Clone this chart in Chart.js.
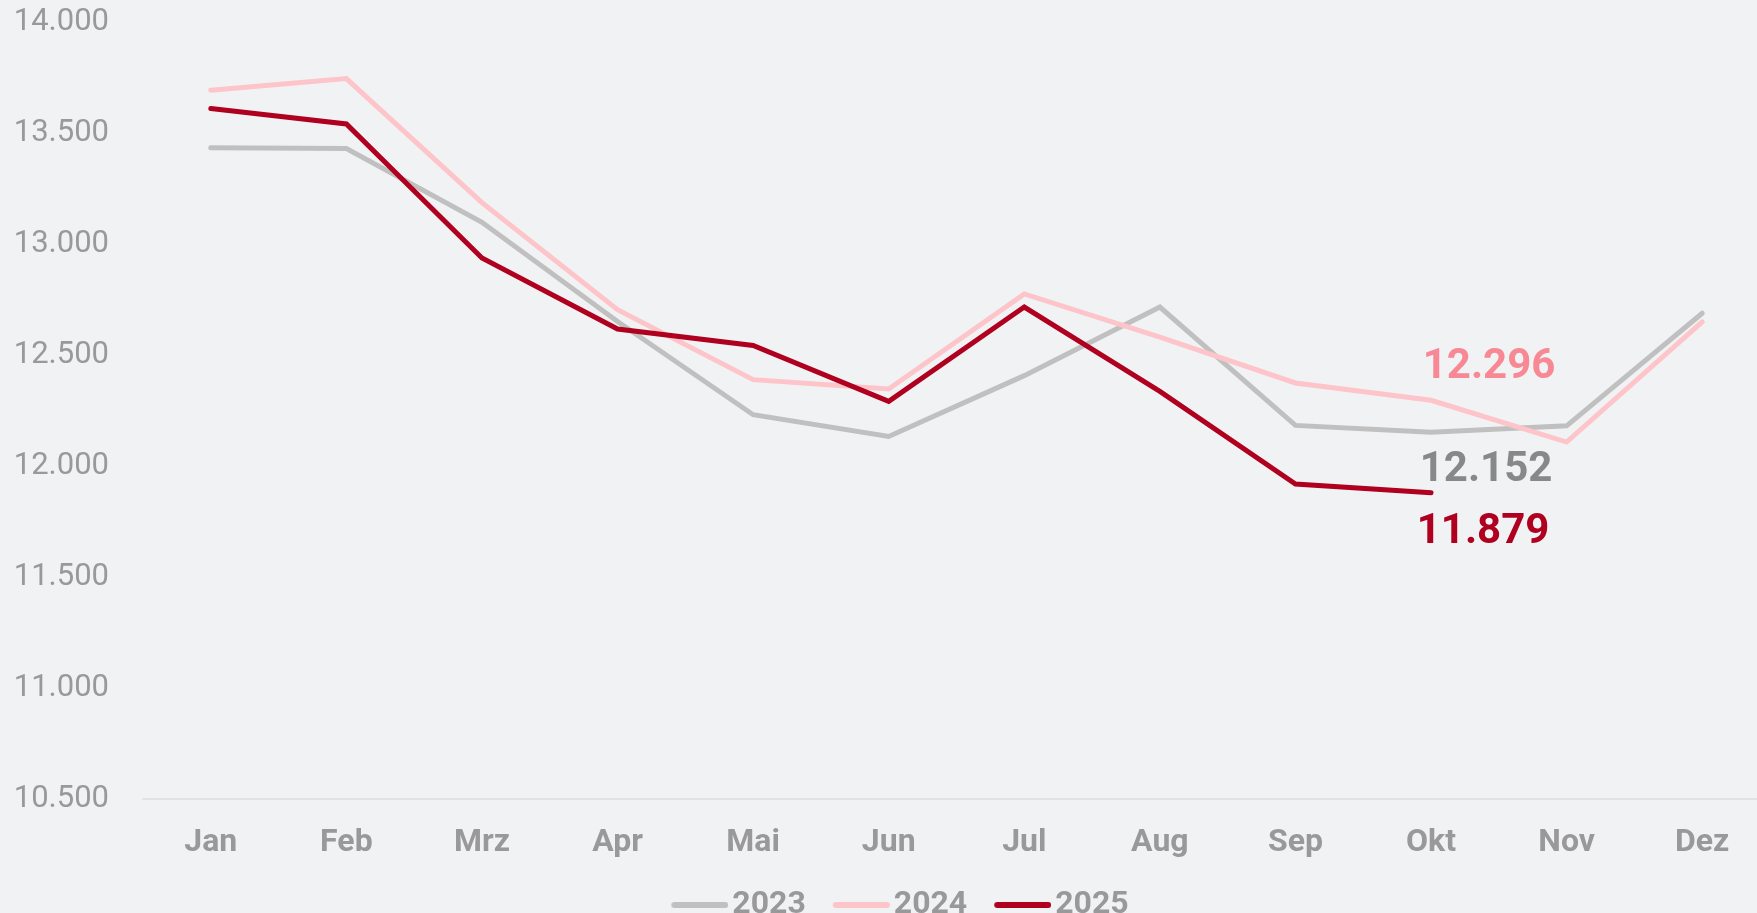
<!DOCTYPE html>
<html lang="de">
<head>
<meta charset="utf-8">
<title>Monatswerte 2023–2025</title>
<script src="https://cdn.jsdelivr.net/npm/chart.js@4.4.1/dist/chart.umd.min.js"></script>
<style>
    html, body {
        margin: 0;
        padding: 0;
        background: #f1f2f4;
        overflow: hidden;
    }
    #wrap {
        position: relative;
        width: 1800px;
        height: 931px;
    }
</style>
</head>
<body>
<div id="wrap">
    <canvas id="chart"></canvas>
</div>
<script>
// Kategorien (Monate)
const months = ['Jan', 'Feb', 'Mrz', 'Apr', 'Mai', 'Jun', 'Jul', 'Aug', 'Sep', 'Okt', 'Nov', 'Dez'];

// Werte je Jahr
const values2023 = [13433, 13430, 13098, 12651, 12231, 12133, 12407, 12716, 12183, 12152, 12181, 12688];
const values2024 = [13693, 13745, 13186, 12704, 12389, 12347, 12775, 12581, 12374, 12296, 12108, 12649];
const values2025 = [13610, 13541, 12937, 12617, 12543, 12291, 12716, 12336, 11919, 11879, null, null];

// Farben
const colors = ['#c0c0c0', '#fdc4ca', '#b00020'];

// Achse
const yMin = 10500;
const yMax = 14000;
const yStep = 500;

// Markierte Werte im Oktober
const highlightIndex = 9;
const highlights = [
    { value: values2024[9], color: '#f78894', dx: 58, dy: -33 },
    { value: values2023[9], color: '#888888', dx: 55, dy: 38 },
    { value: values2025[9], color: '#b00020', dx: 52, dy: 40 }
];

const fmt = v => Number(v).toLocaleString('de-DE');

// Legendensymbol: kurze Linie mit runden Enden
function legendLine(color) {
    const c = document.createElement('canvas');
    c.width = 66;
    c.height = 8;
    const g = c.getContext('2d');
    g.strokeStyle = color;
    g.lineWidth = 6;
    g.lineCap = 'round';
    g.beginPath();
    g.moveTo(12, 4);
    g.lineTo(63, 4);
    g.stroke();
    return c;
}

// Beschriftung der Oktoberwerte
const valueLabels = {
    id: 'valueLabels',
    afterLayout(chart) {
        // Legende etwas nach rechts, damit sie mittig unter der Seite steht
        chart.legend.left += 10;
        chart.legend.right += 10;
    },
    afterDatasetsDraw(chart) {
        const { ctx, scales } = chart;
        const x = scales.x.getPixelForValue(highlightIndex);
        ctx.save();
        ctx.font = 'bold 42px Roboto';
        ctx.textAlign = 'center';
        ctx.textBaseline = 'middle';
        highlights.forEach(h => {
            ctx.fillStyle = h.color;
            ctx.fillText(fmt(h.value), x + h.dx, scales.y.getPixelForValue(h.value) + h.dy);
        });
        ctx.restore();
    }
};

const ctx = document.getElementById('chart').getContext('2d');
new Chart(ctx, {
    type: 'line',
    data: {
        labels: months,
        datasets: [
            { label: '2023', data: values2023, borderColor: colors[0], backgroundColor: colors[0], order: 2 },
            { label: '2024', data: values2024, borderColor: colors[1], backgroundColor: colors[1], order: 1 },
            { label: '2025', data: values2025, borderColor: colors[2], backgroundColor: colors[2], order: 0 }
        ]
    },
    options: {
        responsive: true,
        maintainAspectRatio: false,
        animation: false,
        datasets: {
            line: {
                borderWidth: 5,
                pointRadius: 0,
                pointHoverRadius: 0,
                tension: 0,
                borderCapStyle: 'round',
                spanGaps: false
            }
        },
        layout: {
            padding: { left: 13, right: 30, top: 22, bottom: 0 }
        },
        scales: {
            x: {
                offset: true,
                grid: { display: false, drawTicks: false },
                border: { display: true, color: '#e2e3e5', width: 2 },
                ticks: {
                    color: '#999999',
                    padding: 25,
                    maxRotation: 0,
                    font: { family: 'Roboto', size: 32, weight: 'bold' }
                },
                afterFit(scale) {
                    scale.height = 60;
                    scale.paddingLeft = 0;
                    scale.paddingRight = 0;
                }
            },
            y: {
                min: yMin,
                max: yMax,
                grid: { display: false, drawTicks: false },
                border: { display: false },
                ticks: {
                    stepSize: yStep,
                    color: '#999999',
                    padding: 34,
                    font: { family: 'Roboto', size: 31 },
                    callback: v => fmt(v)
                },
                afterFit(scale) {
                    scale.width = 130;
                    scale.paddingTop = 0;
                    scale.paddingBottom = 0;
                }
            }
        },
        plugins: {
            legend: {
                position: 'bottom',
                labels: {
                    usePointStyle: true,
                    pointStyleWidth: 42,
                    boxHeight: 32,
                    padding: 30,
                    color: '#999999',
                    font: { family: 'Roboto', size: 32, weight: 'bold' },
                    sort: (a, b) => a.datasetIndex - b.datasetIndex,
                    generateLabels(chart) {
                        const items = Chart.defaults.plugins.legend.labels.generateLabels(chart);
                        items.forEach(item => {
                            item.pointStyle = legendLine(colors[item.datasetIndex]);
                        });
                        return items;
                    }
                }
            },
            tooltip: { enabled: false }
        }
    },
    plugins: [valueLabels]
});
</script>
</body>
</html>
